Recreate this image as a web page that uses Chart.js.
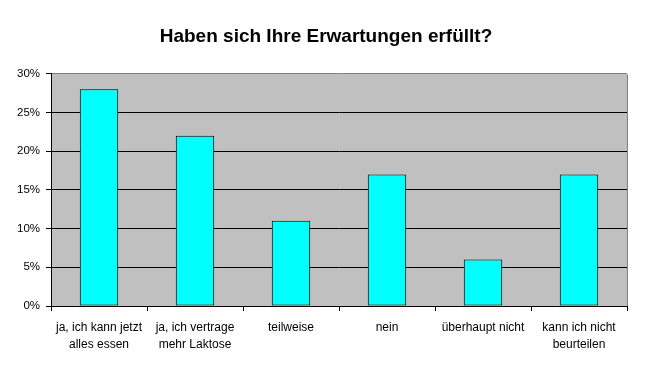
<!DOCTYPE html>
<html><head><meta charset="utf-8">
<script src="https://cdn.jsdelivr.net/npm/chart.js@4/dist/chart.umd.min.js"></script>
<style>html,body{margin:0;padding:0;background:#fff}#wrap{width:652px;height:366px}</style>
</head><body><div id="wrap"><canvas id="c" width="652" height="366"></canvas></div>
<script>
const categories = [["ja, ich kann jetzt","alles essen"],["ja, ich vertrage","mehr Laktose"],"teilweise","nein","überhaupt nicht",["kann ich nicht","beurteilen"]];
const values = [28, 22, 11, 17, 6, 17];
const yTicks = [0, 5, 10, 15, 20, 25, 30];
const titleText = "Haben sich Ihre Erwartungen erfüllt?";

const bgPlugin = {
  id: 'plotBg',
  beforeDraw(chart) {
    const a = chart.chartArea, ctx = chart.ctx;
    ctx.save();
    ctx.fillStyle = '#C0C0C0';
    ctx.fillRect(a.left, a.top, a.right - a.left, a.bottom - a.top);
    ctx.restore();
  },
  afterDatasetsDraw(chart) {
    const a = chart.chartArea, ctx = chart.ctx;
    ctx.save();
    ctx.strokeStyle = '#808080';
    ctx.lineWidth = 1;
    ctx.beginPath();
    ctx.moveTo(Math.round(a.right) + 0.5, a.bottom);
    ctx.lineTo(Math.round(a.right) + 0.5, Math.round(a.top) + 0.5);
    ctx.stroke();
    ctx.restore();
  }
};

new Chart(document.getElementById('c'), {
  type: 'bar',
  data: {
    labels: categories,
    datasets: [{
      data: values,
      backgroundColor: '#00FFFF',
      borderColor: '#000000',
      borderWidth: 1,
      borderSkipped: false,
      barPercentage: 0.4,
      categoryPercentage: 1.0
    }]
  },
  options: {
    responsive: false,
    animation: false,
    devicePixelRatio: 1,
    layout: { padding: 0 },
    plugins: {
      legend: { display: false },
      tooltip: { enabled: false },
      title: {
        display: true,
        text: titleText,
        color: '#000',
        font: { family: 'Liberation Sans, Arial, sans-serif', size: 19, weight: 'bold', lineHeight: 1.2 },
        padding: { top: 25, bottom: 26 }
      }
    },
    scales: {
      y: {
        min: 0, max: 30,
        afterFit(s) { s.width = 51; },
        afterBuildTicks(s) { s.ticks = yTicks.map(v => ({ value: v })); },
        ticks: {
          callback: v => v + '%',
          color: '#000',
          padding: 6,
          font: { family: 'Liberation Sans, Arial, sans-serif', size: 11.5 }
        },
        grid: {
          color: ctx => (ctx.tick && ctx.tick.value === 30) ? '#808080' : '#000000',
          tickColor: '#000000',
          tickLength: 5,
          lineWidth: 1
        },
        border: { color: '#000000', width: 1 }
      },
      yR: {
        position: 'right',
        min: 0, max: 30,
        afterFit(s) { s.width = 25; },
        ticks: { display: false },
        grid: { display: false },
        border: { display: false }
      },
      x: {
        afterFit(s) { s.height = 60; },
        ticks: {
          color: '#000',
          padding: 8,
          maxRotation: 0,
          autoSkip: false,
          font: { family: 'Liberation Sans, Arial, sans-serif', size: 12, lineHeight: 1.4 }
        },
        grid: {
          offset: true,
          drawOnChartArea: false,
          color: '#000000',
          tickLength: 5
        },
        border: { color: '#000000', width: 1 }
      }
    }
  },
  plugins: [bgPlugin]
});
</script></body></html>
